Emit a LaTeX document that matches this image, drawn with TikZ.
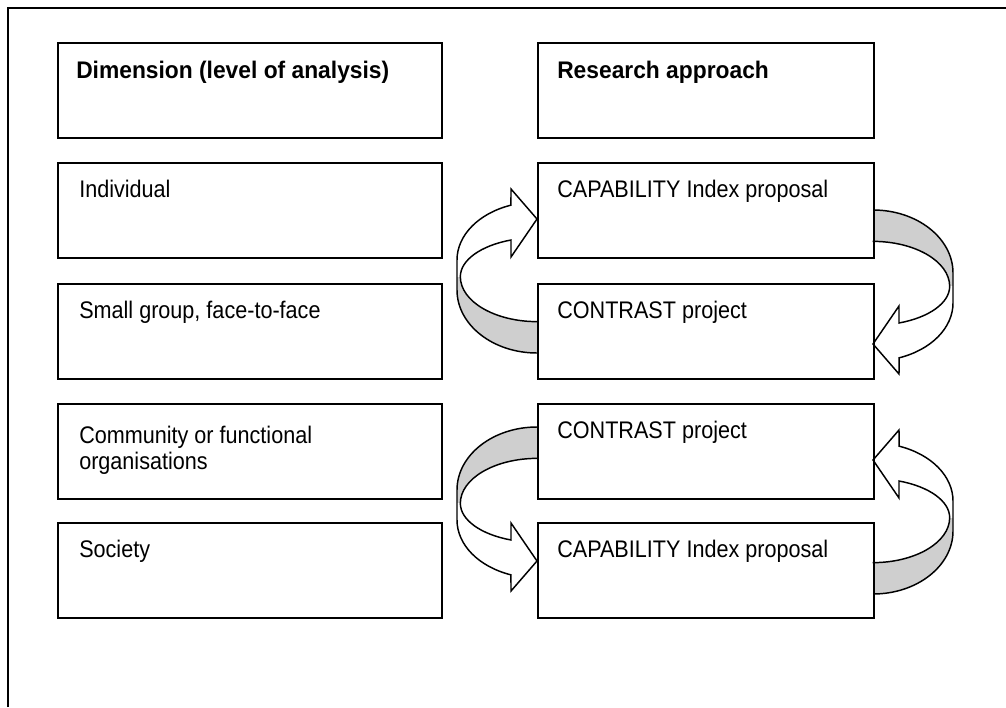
\documentclass[tikz,border=0pt]{standalone}
\usepackage{fontspec}
\setmainfont{Liberation Sans}
\newfontfamily\regfont[FakeStretch=0.90]{Liberation Sans}
\newfontfamily\hdfont[FakeStretch=0.95]{Liberation Sans}
\usetikzlibrary{calc}
\newcommand{\cvarrow}{%
  \fill[bandfill] (537,353) arc[start angle=90,end angle=180,x radius=80,y radius=63]
    -- (457,277) -- (460,277) arc[start angle=180,end angle=90,x radius=77,y radius=45] -- cycle;
  \fill[white] (457,260) arc[start angle=180,end angle=251,x radius=80,y radius=58]
    -- (511,189) -- (537,219) -- (511,257) -- (511,240)
    arc[start angle=250,end angle=180,x radius=77,y radius=39] -- (457,277) -- cycle;
  \draw[arrowline] (537,353) arc[start angle=90,end angle=180,x radius=80,y radius=63]
    -- (457,260) arc[start angle=180,end angle=251,x radius=80,y radius=58]
    -- (511,189) -- (537,219) -- (511,257) -- (511,240)
    arc[start angle=250,end angle=180,x radius=77,y radius=39]
    arc[start angle=180,end angle=90,x radius=77,y radius=45];
}
\begin{document}
\begin{tikzpicture}[x=0.75pt, y=-0.75pt,
  bandfill/.style={fill=gray!38},
  arrowline/.style={draw=black, line width=1.1pt, line join=miter},
  frame/.style={draw=black, line width=1.5pt},
  lbox/.style={draw=black, line width=1.5pt, inner sep=0pt, anchor=north west,
    minimum width=288pt, minimum height=71.25pt},
  rbox/.style={lbox, minimum width=252pt},
  txt/.style={anchor=base west, inner sep=0pt, align=left,
    font=\regfont\fontsize{18}{19.5}\selectfont},
  hd/.style={txt, font=\hdfont\bfseries\fontsize{18}{19.5}\selectfont}]
\useasboundingbox (0,0) rectangle (1006,707);
\draw[frame] (8,707) -- (8,8) -- (1006,8);

% curved arrows
\begin{scope}
  \cvarrow
\end{scope}
\begin{scope}[shift={(1410,563)}, rotate=180]
  \cvarrow
\end{scope}
\begin{scope}[shift={(0,780)}, yscale=-1]
  \cvarrow
\end{scope}
\begin{scope}[shift={(1410,241)}, xscale=-1]
  \cvarrow
\end{scope}

% boxes
\node[lbox] (l1) at (57,42) {};
\node[rbox] (r1) at (537,42) {};
\node[lbox] (l2) at (57,162) {};
\node[rbox] (r2) at (537,162) {};
\node[lbox] (l3) at (57,283) {};
\node[rbox] (r3) at (537,283) {};
\node[lbox] (l4) at (57,403) {};
\node[rbox] (r4) at (537,403) {};
\node[lbox] (l5) at (57,522) {};
\node[rbox] (r5) at (537,522) {};

% texts
\node[hd] (t1) at ($(l1.north west)+(19,36)$) {Dimension (level of analysis)};
\node[hd] (u1) at ($(r1.north west)+(20,36)$) {Research approach};
\node[txt] (t2) at ($(l2.north west)+(22,35.5)$) {Individual};
\node[txt] (u2) at ($(r2.north west)+(20,35.5)$) {CAPABILITY Index proposal};
\node[txt] (t3) at ($(l3.north west)+(22,35.5)$) {Small group, face-to-face};
\node[txt] (u3) at ($(r3.north west)+(20,35.5)$) {CONTRAST project};
\node[txt] (t4) at ($(l4.north west)+(22,66)$) {Community or functional\\organisations};
\node[txt] (u4) at ($(r4.north west)+(20,35.5)$) {CONTRAST project};
\node[txt] (t5) at ($(l5.north west)+(22,35.5)$) {Society};
\node[txt] (u5) at ($(r5.north west)+(20,35.5)$) {CAPABILITY Index proposal};
\end{tikzpicture}
\end{document}
